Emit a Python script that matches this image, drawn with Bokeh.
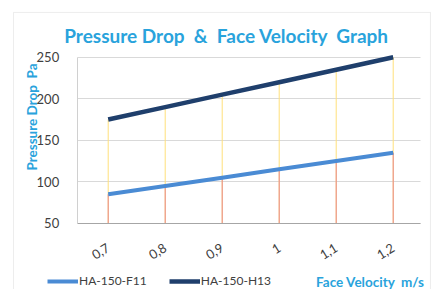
import math
from bokeh.plotting import figure
from bokeh.models import (Range1d, FixedTicker, CustomJSTickFormatter, Label,
                          Legend, LegendItem, BoxAnnotation, Grid)
from bokeh.embed import file_html
from bokeh.resources import INLINE

velocity = [0.7, 0.8, 0.9, 1.0, 1.1, 1.2]
f11 = [85, 95, 105, 115, 125, 135]
h13 = [175, 190, 205, 220, 235, 250]
y_ticks = [50, 100, 150, 200, 250]
series_names = ["HA-150-F11", "HA-150-H13"]

FONT = "Lato"
BLUE_TXT = "#29a3dc"
NB = "\u00a0"
X0, X1 = 0.6456, 1.248
Y0, Y1 = 50, 250

# canvas fills the window; frame fills the canvas; axes pinned inside via fixed_location
p = figure(width=432, height=289, output_backend="svg", toolbar_location=None,
           x_range=Range1d(0.51105, 1.26895), y_range=Range1d(-29.76, 318.43),
           min_border=0)
p.outline_line_color = None
p.xgrid.visible = False

p.yaxis.ticker = FixedTicker(ticks=y_ticks)
p.yaxis.fixed_location = X0
p.yaxis.bounds = (Y0, Y1)
p.yaxis.axis_line_color = "#d0d0d0"
p.yaxis.major_tick_line_color = None
p.yaxis.minor_tick_line_color = None
p.yaxis.major_label_text_font = FONT
p.yaxis.major_label_text_font_size = "13px"
p.yaxis.major_label_text_color = "#404040"
p.yaxis.major_label_standoff = 12

p.ygrid.ticker = p.yaxis[0].ticker
p.ygrid.bounds = (Y0, Y1)
p.ygrid.grid_line_color = "#d9d9d9"
if "cross_bounds" in Grid.properties():
    p.ygrid.cross_bounds = (X0, X1)
else:
    p.ygrid.visible = False
    p.segment(x0=[X0] * len(y_ticks), y0=y_ticks, x1=[X1] * len(y_ticks), y1=y_ticks,
              line_color="#d9d9d9", line_width=1)

p.xaxis.ticker = FixedTicker(ticks=velocity)
p.xaxis.fixed_location = Y0
p.xaxis.bounds = (X0, X1)
p.xaxis.formatter = CustomJSTickFormatter(code="return String(Math.round(tick*10)/10).replace('.', ',');")
p.xaxis.axis_line_color = "#a6a6a6"
p.xaxis.major_tick_line_color = None
p.xaxis.minor_tick_line_color = None
p.xaxis.major_label_orientation = 0.55
p.xaxis.major_label_text_font = FONT
p.xaxis.major_label_text_font_size = "13px"
p.xaxis.major_label_text_color = "#404040"
p.xaxis.major_label_standoff = 17

base = [Y0] * len(velocity)
p.segment(x0=velocity, y0=base, x1=velocity, y1=h13, line_color="#ffe07a", line_width=1)
p.segment(x0=velocity, y0=base, x1=velocity, y1=f11, line_color="#e8888a", line_width=1)

r1 = p.line(velocity, f11, line_color="#4a8bd4", line_width=4)
r2 = p.line(velocity, h13, line_color="#1f3f6c", line_width=4.5)

# outer chart border
p.add_layout(BoxAnnotation(left=0.53386, right=1.26544, top=304.0, bottom=-60,
                           fill_alpha=0, line_color="#c4c4c4", line_width=1))

legend = Legend(items=[LegendItem(label=series_names[0], renderers=[r1]),
                       LegendItem(label=series_names[1], renderers=[r2])],
                orientation="horizontal", location=(47, 1),
                border_line_color=None, background_fill_alpha=0,
                padding=0, margin=0, spacing=22, label_standoff=1,
                glyph_width=31, glyph_height=12, label_height=12,
                label_text_font=FONT, label_text_font_size="12px",
                label_text_color="#404040")
p.add_layout(legend, "center")

p.add_layout(Label(x=0.90754, y=275.7,
                   text=f"Pressure Drop{NB} &{NB} Face Velocity{NB} Graph",
                   text_align="center", text_baseline="middle",
                   text_font=FONT, text_font_style="bold", text_font_size="19px",
                   text_color=BLUE_TXT))
p.add_layout(Label(x=0.56544, y=178.0, text=f"Pressure Drop{NB} Pa", angle=math.pi / 2,
                   text_align="center", text_baseline="middle",
                   text_font=FONT, text_font_style="bold", text_font_size="13.5px",
                   text_color=BLUE_TXT))
p.add_layout(Label(x=1.25491, y=-21.3, text=f"Face Velocity{NB} m/s",
                   text_align="right", text_baseline="middle",
                   text_font=FONT, text_font_style="bold", text_font_size="13.5px",
                   text_color=BLUE_TXT))

open("out.html", "w").write(file_html(p, INLINE))
